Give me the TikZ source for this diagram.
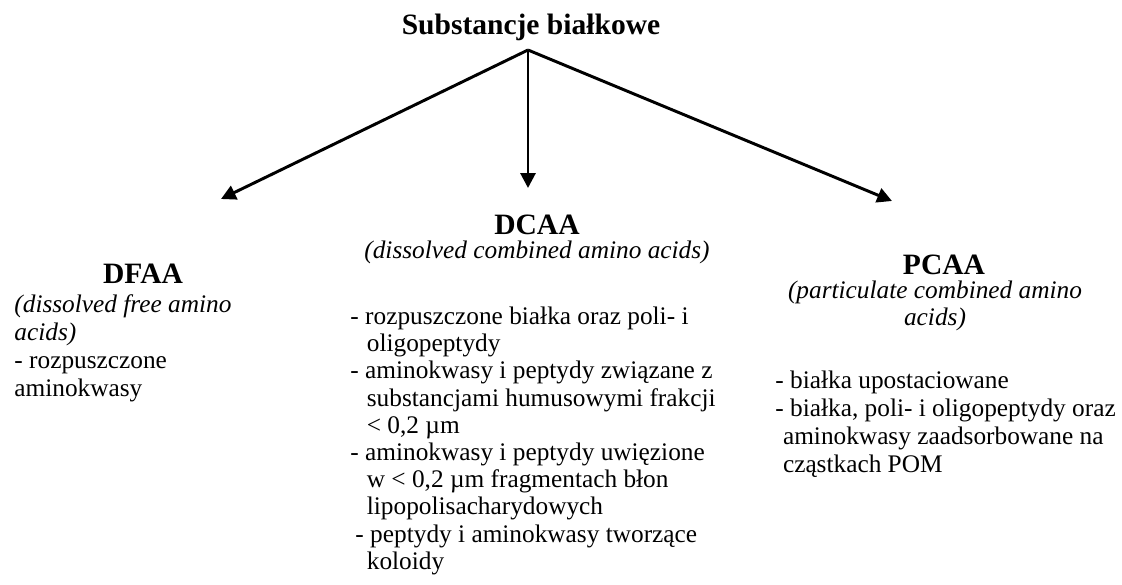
\documentclass[tikz,border=0pt]{standalone}
\usepackage{fontspec}
\setmainfont{Liberation Serif}
\usepackage{tikz}
\usetikzlibrary{arrows.meta, positioning}
\newcommand{\hangin}{\hspace*{0.65em}}

\begin{document}
\begin{tikzpicture}[
        x=0.474pt, y=-0.474pt,
        rootbox/.style={font=\fontsize{14}{16}\selectfont\bfseries, inner sep=0pt, anchor=base},
        headbox/.style={font=\fontsize{14}{16}\selectfont\bfseries, inner sep=0pt, anchor=base},
        subbox/.style={font=\fontsize{12}{12.9}\selectfont\itshape, inner sep=0pt, align=center},
        listbox/.style={font=\fontsize{12}{13.2}\selectfont, inner sep=0pt, align=left, anchor=north west},
        arrow/.style={-{Triangle[length=7pt, width=7pt]}, line width=1.4pt}
    ]
    \useasboundingbox (0,0) rectangle (1122,585);

    % Top
    \node[rootbox] (root) at (531,35) {Substancje białkowe};
    \coordinate (split) at (528,50);

    % Arrow ends
    \coordinate (toDFAA) at (221,199);
    \coordinate (toDCAA) at (528,188);
    \coordinate (toPCAA) at (892,201);

    % DFAA
    \node[headbox] (dfaa) at (143,284) {DFAA};
    \node[listbox] (dfaatxt) at (14,294.5) {\textit{(dissolved free amino}\\\textit{acids)}\\- rozpuszczone\\aminokwasy};

    % DCAA
    \node[headbox] (dcaa) at (537,235) {DCAA};
    \node[subbox, anchor=base] (dcaasub) at (537,259) {(dissolved combined amino acids)};
    \node[listbox, font=\fontsize{12}{12.9}\selectfont] (dcaatxt) at (350,306.5) {- rozpuszczone białka oraz poli- i\\
        \hangin oligopeptydy\\
        - aminokwasy i peptydy związane z\\
        \hangin substancjami humusowymi frakcji\\
        \hangin < 0,2 µm\\
        - aminokwasy i peptydy uwięzione\\
        \hangin w < 0,2 µm fragmentach błon\\
        \hangin lipopolisacharydowych\\
        \hspace*{0.2em}- peptydy i aminokwasy tworzące\\
        \hangin koloidy};

    % PCAA
    \node[headbox] (pcaa) at (944,275) {PCAA};
    \node[subbox, anchor=north] (pcaasub) at (935,280.5) {(particulate combined amino\\acids)};
    \node[listbox] (pcaatxt) at (775,370.5) {- białka upostaciowane\\
        - białka, poli- i oligopeptydy oraz\\
        \hspace*{0.3em}aminokwasy zaadsorbowane na\\
        \hspace*{0.3em}cząstkach POM};

    % Arrows
    \draw[arrow] (split) -- (toDFAA);
    \draw[arrow] (split) -- (toDCAA);
    \draw[arrow] (split) -- (toPCAA);

\end{tikzpicture}
\end{document}
